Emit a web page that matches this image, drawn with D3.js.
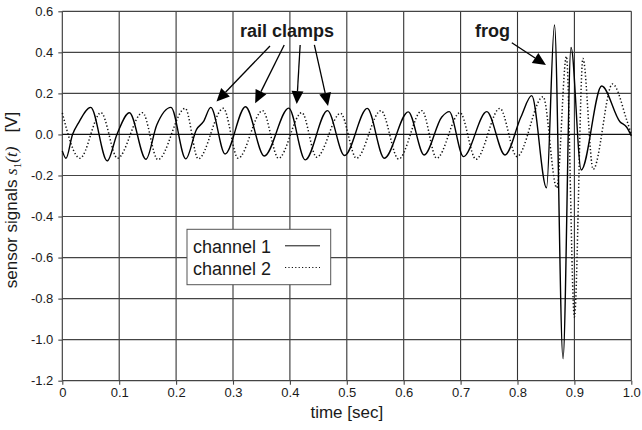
<!DOCTYPE html>
<html>
<head>
<meta charset="utf-8">
<script src="https://cdn.jsdelivr.net/npm/d3@7"></script>
<style>
body { margin: 0; background: #fff; }
svg text { font-family: "Liberation Sans", Arial, Helvetica, sans-serif; fill: #1a1a1a; }
</style>
</head>
<body>
<div id="chart"></div>
<script>
// axis ticks
var xTicks = [0, 0.1, 0.2, 0.3, 0.4, 0.5, 0.6, 0.7, 0.8, 0.9, 1.0];
var xTickLabels = ["0", "0.1", "0.2", "0.3", "0.4", "0.5", "0.6", "0.7", "0.8", "0.9", "1.0"];
var yTicks = [-1.2, -1.0, -0.8, -0.6, -0.4, -0.2, 0.0, 0.2, 0.4, 0.6];
var yTickLabels = ["-1.2", "-1.0", "-0.8", "-0.6", "-0.4", "-0.2", "0.0", "0.2", "0.4", "0.6"];

// channel 1 (solid)
var ch1Time = [0.000, 0.0065, 0.018, 0.028, 0.050, 0.079, 0.096, 0.118, 0.147, 0.166, 0.191,
               0.217, 0.236, 0.248, 0.261, 0.286, 0.322, 0.355, 0.398, 0.427, 0.466, 0.496,
               0.536, 0.566, 0.608, 0.636, 0.667, 0.680, 0.705, 0.746, 0.778, 0.806, 0.825,
               0.851, 0.865, 0.880, 0.894, 0.912, 0.948, 0.980, 0.992, 1.000];
var ch1Volt = [-0.080, -0.116, 0.000, 0.054, 0.132, -0.129, 0.000, 0.106, -0.121, 0.046, 0.132,
               -0.119, 0.025, 0.062, 0.132, -0.095, 0.135, -0.105, 0.128, -0.124, 0.116, -0.103,
               0.127, -0.116, 0.110, -0.100, 0.085, 0.111, -0.108, 0.111, -0.100, 0.085, 0.189,
               -0.260, 0.533, -1.093, 0.424, -0.173, 0.236, 0.062, 0.035, -0.007];

// channel 2 (dotted)
var ch2Time = [0.000, 0.031, 0.068, 0.097, 0.141, 0.168, 0.216, 0.239, 0.283, 0.309, 0.352,
               0.380, 0.421, 0.447, 0.489, 0.517, 0.560, 0.591, 0.632, 0.658, 0.699, 0.727,
               0.769, 0.799, 0.845, 0.869, 0.886, 0.900, 0.915, 0.933, 0.967, 0.992, 1.000];
var ch2Volt = [0.105, -0.116, 0.106, -0.116, 0.106, -0.123, 0.127, -0.119, 0.127, -0.116, 0.116,
               -0.116, 0.106, -0.111, 0.103, -0.116, 0.116, -0.120, 0.116, -0.116, 0.106, -0.121,
               0.127, -0.108, 0.184, -0.260, 0.380, -0.890, 0.370, -0.170, 0.246, 0.070, 0.000];

var seriesNames = ["channel 1", "channel 2"];

// annotations: label anchor and arrows (start -> tip) in data units
var noteLabels = ["rail clamps", "frog"];
var noteAnchorT = [0.395, 0.756];
var noteAnchorV = [0.474, 0.474];
var arrowFromT = [0.365, 0.390, 0.418, 0.443, 0.790];
var arrowFromV = [0.431, 0.436, 0.436, 0.436, 0.447];
var arrowToT = [0.271, 0.339, 0.412, 0.467, 0.850];
var arrowToV = [0.160, 0.152, 0.148, 0.139, 0.338];

var W = 642, H = 430;
var margin = {left: 62.3, right: 10.7, top: 11.3, bottom: 49.3};
var pw = W - margin.left - margin.right;
var ph = H - margin.top - margin.bottom;

var svg = d3.select("#chart").append("svg")
    .attr("width", W)
    .attr("height", H);

var g = svg.append("g")
    .attr("transform", "translate(" + margin.left + "," + margin.top + ")");

var x = d3.scaleLinear().domain([0, 1]).range([0, pw]);
var y = d3.scaleLinear().domain([-1.2, 0.6]).range([ph, 0]);

// grid
g.selectAll("line.vgrid").data(xTicks).enter().append("line")
    .attr("class", "vgrid")
    .attr("x1", function(d) { return x(d); })
    .attr("x2", function(d) { return x(d); })
    .attr("y1", 0).attr("y2", ph)
    .attr("stroke", "#333").attr("stroke-width", 1.1);

g.selectAll("line.hgrid").data(yTicks).enter().append("line")
    .attr("class", "hgrid")
    .attr("x1", 0).attr("x2", pw)
    .attr("y1", function(d) { return y(d); })
    .attr("y2", function(d) { return y(d); })
    .attr("stroke", function(d) { return d === 0 ? "#111" : "#444"; })
    .attr("stroke-width", 1.2);

// axes
var xAxis = d3.axisBottom(x).tickValues(xTicks).tickSize(4).tickPadding(3)
    .tickFormat(function(d, i) { return xTickLabels[i]; });
var yAxis = d3.axisLeft(y).tickValues(yTicks).tickSize(4).tickPadding(5)
    .tickFormat(function(d, i) { return yTickLabels[i]; });

var gx = g.append("g").attr("transform", "translate(0," + ph + ")").call(xAxis);
var gy = g.append("g").call(yAxis);
[gx, gy].forEach(function(a) {
    a.select(".domain").remove();
    a.selectAll(".tick line").attr("stroke", "#444").attr("stroke-width", 1.1);
    a.selectAll(".tick text").attr("font-size", 13).attr("fill", "#222")
        .attr("font-family", "'Liberation Sans', Arial, sans-serif");
});

// signals
var line = d3.line()
    .x(function(d) { return x(d[0]); })
    .y(function(d) { return y(d[1]); })
    .curve(d3.curveMonotoneX);

var ch1 = d3.zip(ch1Time, ch1Volt);
var ch2 = d3.zip(ch2Time, ch2Volt);

g.append("path").datum(ch2)
    .attr("d", line)
    .attr("fill", "none")
    .attr("stroke", "#111")
    .attr("stroke-width", 1.5)
    .attr("stroke-dasharray", "1.3,2.2");

g.append("path").datum(ch1)
    .attr("d", line)
    .attr("fill", "none")
    .attr("stroke", "#000")
    .attr("stroke-width", 1.4);

// annotations
noteLabels.forEach(function(t, i) {
    g.append("text")
        .attr("x", x(noteAnchorT[i]))
        .attr("y", y(noteAnchorV[i]))
        .attr("text-anchor", "middle")
        .attr("font-size", 18)
        .attr("font-weight", "bold")
        .text(t);
});

var headLen = 13, headHalf = 6;
for (var k = 0; k < arrowFromT.length; k++) {
    var x1 = x(arrowFromT[k]), y1 = y(arrowFromV[k]);
    var x2 = x(arrowToT[k]), y2 = y(arrowToV[k]);
    var dx = x2 - x1, dy = y2 - y1;
    var len = Math.sqrt(dx * dx + dy * dy);
    var ux = dx / len, uy = dy / len;
    var bx = x2 - ux * headLen, by = y2 - uy * headLen;
    g.append("line")
        .attr("x1", x1).attr("y1", y1)
        .attr("x2", bx).attr("y2", by)
        .attr("stroke", "#000").attr("stroke-width", 1.3);
    g.append("polygon")
        .attr("points", [
            [x2, y2],
            [bx - uy * headHalf, by + ux * headHalf],
            [bx + uy * headHalf, by - ux * headHalf]
        ].map(function(p) { return p.join(","); }).join(" "))
        .attr("fill", "#000");
}

// legend
var lg = g.append("g").attr("transform", "translate(" + (187 - margin.left) + "," + (229.3 - margin.top) + ")");
lg.append("rect")
    .attr("width", 143.7).attr("height", 55.4)
    .attr("fill", "#fff").attr("stroke", "#555").attr("stroke-width", 1);
seriesNames.forEach(function(name, i) {
    var yy = 24 + i * 21.7;
    lg.append("text")
        .attr("x", 6).attr("y", yy)
        .attr("font-size", 18)
        .text(name);
    lg.append("line")
        .attr("x1", 98).attr("x2", 133)
        .attr("y1", yy - 7.5).attr("y2", yy - 7.5)
        .attr("stroke", "#111")
        .attr("stroke-width", i === 0 ? 1 : 1.2)
        .attr("stroke-dasharray", i === 0 ? null : "1.2,2.2");
});

// axis titles
svg.append("text")
    .attr("x", margin.left + pw / 2)
    .attr("y", 418)
    .attr("text-anchor", "middle")
    .attr("font-size", 17)
    .text("time [sec]");

var yt = svg.append("text")
    .attr("transform", "translate(16.5," + 200 + ") rotate(-90)")
    .attr("text-anchor", "middle")
    .attr("font-size", 17)
    .attr("xml:space", "preserve");
yt.append("tspan").text("sensor signals ");
yt.append("tspan").attr("font-family", "'Liberation Serif', 'Times New Roman', serif")
    .attr("font-style", "italic").text("s");
yt.append("tspan").attr("font-size", 11).attr("dy", 4)
    .attr("font-family", "'Liberation Serif', 'Times New Roman', serif").text("1");
yt.append("tspan").attr("dy", -4)
    .attr("font-family", "'Liberation Serif', 'Times New Roman', serif")
    .attr("font-style", "italic").text("(t)");
yt.append("tspan").text("   [V]");
</script>
</body>
</html>
